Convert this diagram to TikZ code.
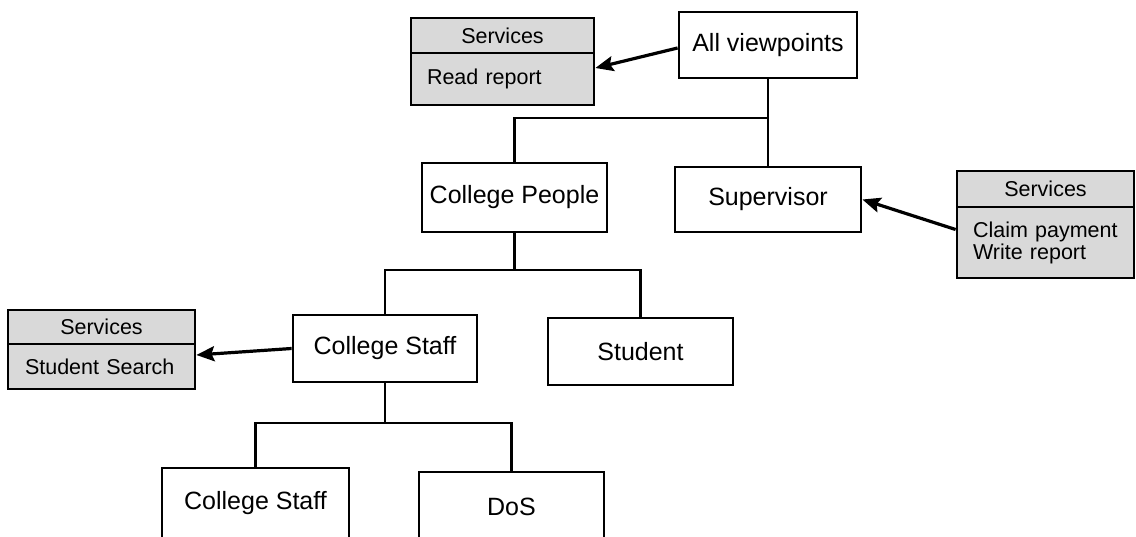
\documentclass[tikz,border=0pt]{standalone}
\usepackage{fontspec}
\setmainfont{Liberation Sans}
\usetikzlibrary{arrows.meta}
\begin{document}
\begin{tikzpicture}[x=1pt, y=-1pt, >={Stealth[length=18pt,width=15pt,inset=3pt]},
  box/.style={draw, line width=2.8pt, inner sep=0pt, font=\fontsize{25}{30}\selectfont},
  svhead/.style={draw, line width=2.8pt, inner sep=0pt, fill=black!15, font=\fontsize{21.5}{25}\selectfont},
  svbody/.style={svhead, align=left},
  tree/.style={line width=2.8pt},
  svarrow/.style={line width=3.2pt, ->}]
\useasboundingbox (0,0) rectangle (1136,537);
\clip (0,0) rectangle (1136,537);
\node[box, minimum width=178pt, minimum height=66pt] (all) at (768,45) {All viewpoints};
\node[box, minimum width=185pt, minimum height=69pt] (cp) at (514.5,197.5) {College People};
\node[box, minimum width=186pt, minimum height=65pt] (sv) at (768,199.5) {Supervisor};
\node[box, minimum width=184pt, minimum height=67pt] (cs) at (385,348.5) {College Staff};
\node[box, minimum width=185pt, minimum height=67pt] (st) at (640.5,351.5) {Student};
\node[box, minimum width=187pt, minimum height=70pt] (cs2) at (255.5,503) {College Staff};
\node[box, minimum width=185pt, minimum height=70pt] (dos) at (511.5,507) {DoS};

\node[svhead, minimum width=183pt, minimum height=35pt] (s1h) at (502.5,35.5) {Services};
\node[svbody, minimum width=183pt, minimum height=52pt, text width=151pt] (s1b) at (502.5,79) {Read report};
\node[svhead, minimum width=177pt, minimum height=36pt] (s2h) at (1045.5,189) {Services};
\node[svbody, minimum width=177pt, minimum height=71pt, text width=145pt] (s2b) at (1045.5,242.5) {Claim payment\\[-3pt]Write report};
\node[svhead, minimum width=187pt, minimum height=34pt] (s3h) at (101.5,327) {Services};
\node[svbody, minimum width=187pt, minimum height=45pt, text width=153pt] (s3b) at (101.5,366.5) {Student Search};

\coordinate (j1) at (0,118);
\coordinate (j2) at (0,270);
\coordinate (j3) at (0,423);
\draw[tree] (all.south) -- (all.south |- j1) -| (cp.north);
\draw[tree] (all.south |- j1) -- (sv.north);
\draw[tree] (cp.south) -- (cp.south |- j2) -| (cs.north);
\draw[tree] (cp.south |- j2) -| (st.north);
\draw[tree] (cs.south) -- (cs.south |- j3) -| (cs2.north);
\draw[tree] (cs.south |- j3) -| (dos.north);

\draw[svarrow] ([yshift=-3pt]all.west) -- ([yshift=11pt]s1b.east);
\draw[svarrow] ([yshift=13pt]s2b.west) -- (sv.east);
\draw[svarrow] (cs.west) -- ([yshift=11.5pt]s3b.east);
\end{tikzpicture}
\end{document}
